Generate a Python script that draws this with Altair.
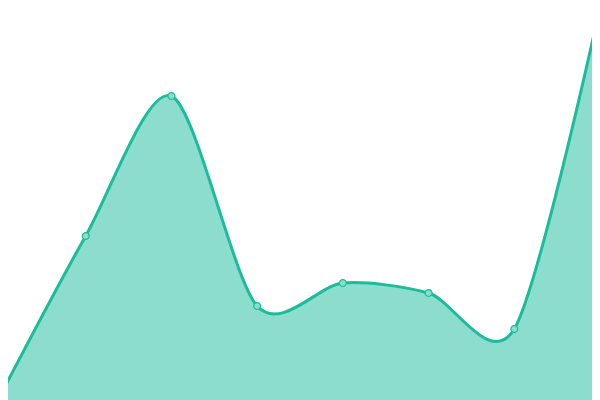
import altair as alt
import pandas as pd

idx = [0, 1, 2, 3, 4, 5, 6, 7]
values = [1, 41, 76, 23.5, 29.25, 26.75, 17.75, 98.25]

df = pd.DataFrame({"i": idx, "v": values})

LINE = "#1abc9c"
FILL = "#8cddcd"

x = alt.X("i:Q", axis=None, scale=alt.Scale(domain=[0, 7], range=[-8, 592], nice=False, zero=False))
y = alt.Y("v:Q", axis=None, scale=alt.Scale(domain=[0, 100], range=[392, -8], nice=False))

base = alt.Chart(df)

area = base.mark_area(interpolate="cardinal", tension=0.15, color=FILL, opacity=1).encode(x=x, y=y)
line = base.mark_line(interpolate="cardinal", tension=0.15, color=LINE, strokeWidth=3).encode(x=x, y=y)
pts = base.mark_point(filled=True, fill=FILL, stroke=LINE, strokeWidth=1.2, size=48, opacity=1, shape="circle").encode(x=x, y=y)

chart = (area + line + pts).properties(
    width=584, height=392, padding=0, autosize=alt.AutoSizeParams(type="none"), background="white"
).configure_view(stroke=None)

chart.save("out.html", embed_options={"renderer": "svg", "actions": False})
